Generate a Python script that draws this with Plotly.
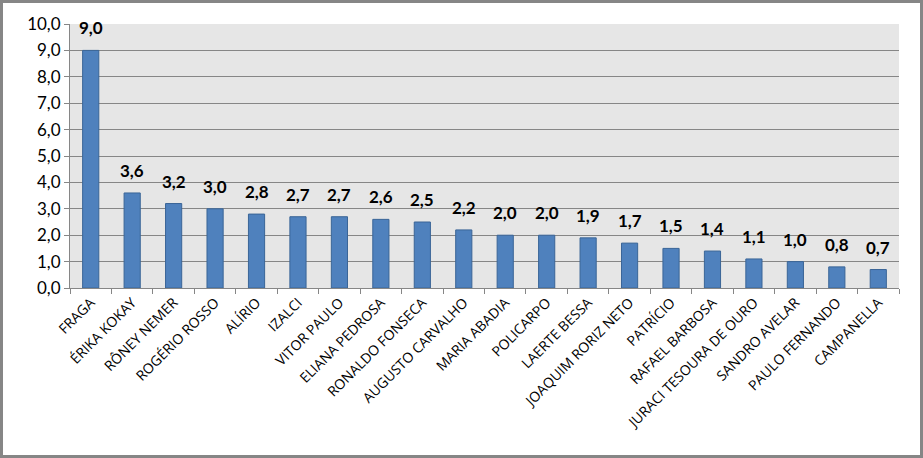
import plotly.graph_objects as go

names = ["FRAGA", "ÉRIKA KOKAY", "RÔNEY NEMER", "ROGÉRIO ROSSO", "ALÍRIO", "IZALCI",
         "VITOR PAULO", "ELIANA PEDROSA", "RONALDO FONSECA", "AUGUSTO CARVALHO",
         "MARIA ABADIA", "POLICARPO", "LAERTE BESSA", "JOAQUIM RORIZ NETO", "PATRÍCIO",
         "RAFAEL BARBOSA", "JURACI TESOURA DE OURO", "SANDRO AVELAR", "PAULO FERNANDO",
         "CAMPANELLA"]
values = [9.0, 3.6, 3.2, 3.0, 2.8, 2.7, 2.7, 2.6, 2.5, 2.2, 2.0, 2.0, 1.9, 1.7, 1.5,
          1.4, 1.1, 1.0, 0.8, 0.7]
y_ticks = [0, 1, 2, 3, 4, 5, 6, 7, 8, 9, 10]

W, H = 923, 458
ml, mr, mt, mb = 70, 24, 24, 170
pw, ph = W - ml - mr, H - mt - mb

fig = go.Figure(go.Bar(
    x=names, y=values,
    marker=dict(color="#4f81bd", line=dict(color="#3a6597", width=1)),
    width=0.39,
))

annotations = []
for n, v in zip(names, values):
    annotations.append(dict(
        x=n, y=v, xref="x", yref="y", text=f"{v:.1f}".replace(".", ","),
        showarrow=False, yanchor="bottom", yshift=10 if v < 9.5 else -3,
        font=dict(family="Lato", size=17, color="#000000", weight="bold"),
    ))

fig.update_layout(
    width=W, height=H,
    margin=dict(l=ml, r=mr, t=mt, b=mb, pad=0),
    paper_bgcolor="white", plot_bgcolor="#e6e6e6",
    separators=",.",
    showlegend=False,
    font=dict(family="Lato", color="#000000"),
    annotations=annotations,
    xaxis=dict(
        tickangle=-45, tickfont=dict(size=14, family="Open Sans"),
        tickson="boundaries", ticks="outside", ticklen=5, tickcolor="#868686",
        showline=True, linecolor="#868686", linewidth=1, showgrid=False,
        range=[-0.5, len(names) - 0.5],
    ),
    yaxis=dict(
        range=[0, 10], tickvals=y_ticks, tickformat=".1f",
        tickfont=dict(size=17, family="Lato"),
        ticks="outside", ticklen=5, tickcolor="#868686",
        showline=True, linecolor="#868686", linewidth=1,
        showgrid=True, gridcolor="#868686", gridwidth=1, zeroline=False,
    ),
    shapes=[dict(
        type="rect", xref="paper", yref="paper",
        x0=-(ml - 1.5) / pw, x1=1 + (mr - 1.5) / pw,
        y0=-(mb - 1.5) / ph, y1=1 + (mt - 1.5) / ph,
        line=dict(color="#868686", width=3), layer="above",
    )],
)

fig.write_html("out.html")
